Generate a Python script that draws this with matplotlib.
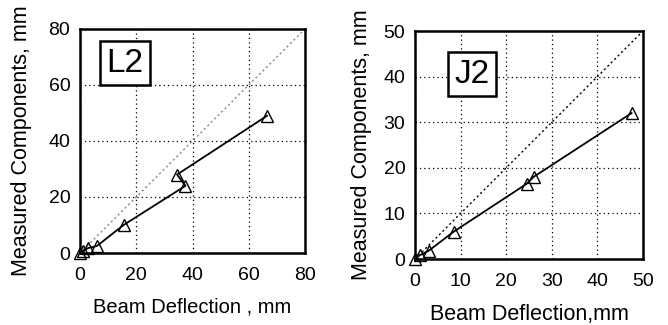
import matplotlib
matplotlib.use("Agg")
import matplotlib.pyplot as plt

plt.rcParams['font.family'] = ['Liberation Sans', 'DejaVu Sans']

# L2 panel data
l2_x = [0, 1, 3, 6, 15.5, 37.5, 34.5, 66.5]
l2_y = [0, 0.8, 1.8, 2.5, 10, 24, 28, 49]
# J2 panel data
j2_x = [0, 1, 3, 8.5, 24.5, 26, 47.5]
j2_y = [0, 0.8, 1.8, 6, 16.5, 18, 32]

l2_ticks = [0, 20, 40, 60, 80]
j2_ticks = [0, 10, 20, 30, 40, 50]

fig = plt.figure(figsize=(6.68, 3.25), dpi=100)
W, H = 668, 325

def make_ax(l, r, t, b):
    return fig.add_axes([l / W, 1 - b / H, (r - l) / W, (b - t) / H])

ax1 = make_ax(80, 305, 29, 253)
ax2 = make_ax(415, 643, 31, 259)

def style(ax, ticks, xs, ys, label, xlabel, xlsize, xlpad, ylpad, boxpos, diagcolor):
    lim = ticks[-1]
    ax.set_xlim(0, lim)
    ax.set_ylim(0, lim)
    ax.set_xticks(ticks)
    ax.set_yticks(ticks)
    ax.tick_params(length=0, labelsize=14)
    ax.tick_params(axis='x', pad=10)
    ax.tick_params(axis='y', pad=7)
    ax.grid(True, color='black', linestyle=(0, (1, 2.5)), linewidth=0.9)
    for s in ax.spines.values():
        s.set_linewidth(1.8)
    ax.plot([0, lim], [0, lim], color=diagcolor, linestyle=(0, (1.5, 2)), linewidth=1.0, zorder=2)
    ax.plot(xs, ys, color='black', linewidth=1.3, marker='^', markersize=8.5,
            markerfacecolor='none', markeredgecolor='black', markeredgewidth=1.0,
            clip_on=False, zorder=3)
    ax.set_xlabel(xlabel, fontsize=xlsize, labelpad=xlpad)
    ax.set_ylabel('Measured Components, mm', fontsize=15.5, labelpad=ylpad)
    ax.text(boxpos[0], boxpos[1], label, transform=ax.transAxes, fontsize=24,
            ha='center', va='center',
            bbox=dict(boxstyle='square,pad=0.2', facecolor='white', edgecolor='black', linewidth=1.8),
            zorder=4)

style(ax1, l2_ticks, l2_x, l2_y, 'L2', 'Beam Deflection , mm', 14.5, 10, 12, (0.2, 0.848), '#888888')
style(ax2, j2_ticks, j2_x, j2_y, 'J2', 'Beam Deflection,mm', 15.5, 10, 8, (0.25, 0.81), 'black')

fig.savefig('out.png', dpi=100)
